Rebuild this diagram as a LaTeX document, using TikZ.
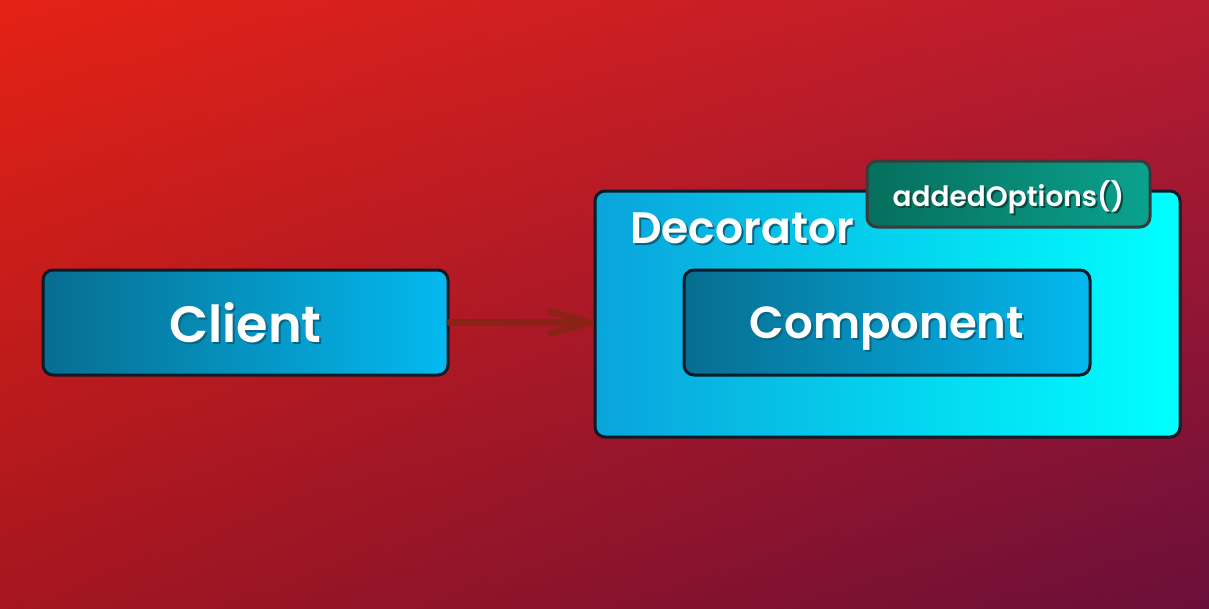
\documentclass[tikz,border=0pt]{standalone}
\usepackage{fontspec}
\setmainfont{Poppins}[BoldFont={Poppins SemiBold}]
\usetikzlibrary{arrows.meta,shadings}
\definecolor{bgTL}{HTML}{E42215}
\definecolor{bgTR}{HTML}{B81C30}
\definecolor{bgBL}{HTML}{A5161F}
\definecolor{bgBR}{HTML}{6A0F3A}
\definecolor{blueL}{HTML}{076D90}
\definecolor{blueR}{HTML}{04B9F0}
\definecolor{decL}{HTML}{0AA4DB}
\definecolor{decM}{HTML}{00D6FF}
\definecolor{decR}{HTML}{00FFFF}
\definecolor{greenL}{HTML}{066E5C}
\definecolor{greenR}{HTML}{0AA28E}
\definecolor{boxline}{HTML}{0E1A24}
\definecolor{tagline}{HTML}{3A3A3A}
\definecolor{arrowc}{HTML}{8A2316}
\definecolor{shadowc}{HTML}{0B6582}
\definecolor{shadowg}{HTML}{0B4A40}
\newcommand\shtext[2]{\raisebox{0pt}[\height][0pt]{\makebox[0pt][l]{\hspace{2pt}\raisebox{-2pt}{\color{#1}#2}}#2}}
\tikzset{
  classbox/.style={draw=boxline, line width=3pt, rounded corners=10pt,
    left color=blueL, right color=blueR, minimum width=405pt, minimum height=105pt,
    inner sep=0pt, text=white},
  decbox/.style={draw=boxline, line width=3pt, rounded corners=10pt,
    left color=decL, middle color=decM, right color=decR,
    minimum width=585pt, minimum height=246pt, inner sep=0pt},
  tagbox/.style={draw=tagline, line width=3pt, rounded corners=10pt,
    left color=greenL, right color=greenR, minimum width=283pt, minimum height=66pt,
    inner sep=0pt, text=white},
  link/.style={draw=arrowc, line width=6.5pt, line cap=round,
    -{Straight Barb[length=40pt,width=22pt,round]}}
}
\begin{document}
\begin{tikzpicture}[x=1pt,y=-1pt]
\useasboundingbox (0,0) rectangle (1209,608);
\shade[upper left=bgTL, upper right=bgTR, lower left=bgBL, lower right=bgBR]
  (0,0) rectangle (1209,608);
\node[decbox] (decorator) at (887.5,314) {};
\node[anchor=base west, text=white, inner sep=0pt,
  font=\bfseries\fontsize{44}{50}\selectfont] (declabel) at (630,243)
  {\shtext{shadowc}{Decorator}};
\node[classbox, font=\bfseries\fontsize{51}{60}\selectfont] (client) at (245.5,322.5)
  {\shtext{shadowc}{Client}};
\node[classbox, font=\bfseries\fontsize{45}{56}\selectfont, minimum width=406pt] (component) at (887,322.5)
  {\shtext{shadowc}{Component}};
\node[tagbox, font=\bfseries\fontsize{28}{34}\selectfont] (tag) at (1008.5,194)
  {\shtext{shadowg}{addedOptions()}};
\draw[link] (client.east) -- (client.east -| decorator.west);
\end{tikzpicture}
\end{document}
